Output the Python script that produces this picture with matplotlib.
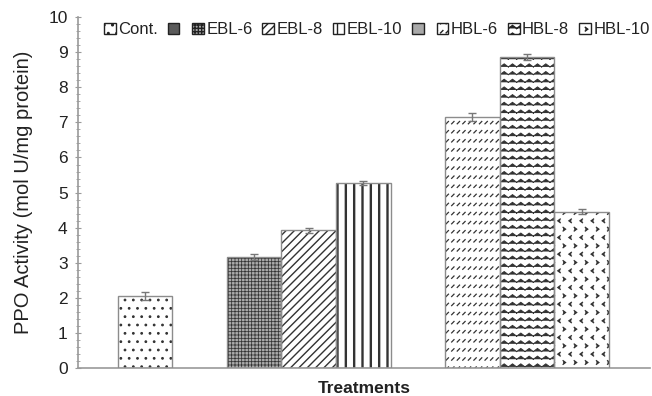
import warnings
import numpy as np
import matplotlib
matplotlib.use("Agg")
import matplotlib.pyplot as plt
from matplotlib import hatch as mhatch
from matplotlib.path import Path
from matplotlib.patches import Patch

warnings.filterwarnings("ignore", message="hatch must consist")

# ---- data -------------------------------------------------------------
treatments = ["Cont.", "EBL-6", "EBL-8", "EBL-10", "HBL-6", "HBL-8", "HBL-10"]
ppo_activity = [2.05, 3.17, 3.92, 5.28, 7.16, 8.87, 4.46]
ppo_error = [0.12, 0.08, 0.07, 0.06, 0.12, 0.08, 0.06]
# empty series that separate the control, EBL and HBL groups
spacer_colors = ["#5a5a5a", "#a9a9a9"]

y_ticks = list(range(0, 11))


# ---- extra hatch motifs -----------------------------------------------
class MotifHatch(mhatch.HatchPatternBase):
    """Repeats a small line motif on an nx-by-ny grid of the hatch tile."""
    key = ""
    nx = 1
    ny = 1
    strokes = ()

    def __init__(self, hatch, density):
        self.active = bool(self.key) and self.key in hatch
        per_cell = sum(len(s) for s in self.strokes)
        self.num_vertices = self.nx * self.ny * per_cell if self.active else 0

    def set_vertices_and_codes(self, vertices, codes):
        i = 0
        for r in range(self.ny):
            for c in range(self.nx):
                for stroke in self.strokes:
                    pts = np.asarray(stroke, float)
                    n = len(pts)
                    vertices[i:i + n, 0] = (c + pts[:, 0]) / self.nx
                    vertices[i:i + n, 1] = (r + pts[:, 1]) / self.ny
                    codes[i] = Path.MOVETO
                    codes[i + 1:i + n] = Path.LINETO
                    i += n


class ZigzagHatch(MotifHatch):
    key = "z"
    nx, ny = 12, 13
    strokes = ([(0.0, 0.3), (0.5, 0.7), (1.0, 0.3)],)


class DashSlashHatch(MotifHatch):
    key = "s"
    nx, ny = 18, 11
    strokes = ([(0.3, 0.38), (0.72, 0.64)],)


class ChevronHatch(MotifHatch):
    key = "c"
    nx, ny = 9, 6
    strokes = ([(0.42, 0.86), (0.2, 0.75), (0.42, 0.64)],
               [(0.68, 0.36), (0.9, 0.25), (0.68, 0.14)])


mhatch._hatch_types.extend([ZigzagHatch, DashSlashHatch, ChevronHatch])

# fill style of each treatment: (face colour, hatch, hatch line width)
styles = {
    "Cont.": ("white", "..", 0.8),
    "EBL-6": ("#aaaaaa", "+++++", 0.55),
    "EBL-8": ("white", "////", 1.0),
    "EBL-10": ("white", "||", 1.7),
    "HBL-6": ("white", "s", 0.9),
    "HBL-8": ("white", "z", 0.7),
    "HBL-10": ("white", "c", 0.9),
}

plt.rcParams["font.family"] = ["Liberation Sans", "DejaVu Sans"]
text_color = "#222222"
axis_color = "#9a9a9a"
hatch_color = "#333333"

fig = plt.figure(figsize=(6.52, 3.96), dpi=100)
ax = fig.add_axes([0.1196, 0.0707, 0.877, 0.886])

# slot layout: control, gap, three EBL, gap, three HBL
slots = [0, 2, 3, 4, 6, 7, 8]

for slot, name, val in zip(slots, treatments, ppo_activity):
    face, hatch, hlw = styles[name]
    with plt.rc_context({"hatch.linewidth": hlw}):
        bar = ax.bar(slot, val, width=1.0, color=face, hatch=hatch,
                     edgecolor=hatch_color, linewidth=0, zorder=2)[0]
    if hasattr(bar, "set_hatch_linewidth"):
        bar.set_hatch_linewidth(hlw)

ax.bar(slots, ppo_activity, width=1.0, fill=False, edgecolor="#8c8c8c",
       linewidth=1.0, zorder=3)
ax.errorbar(slots, ppo_activity, yerr=ppo_error, fmt="none", ecolor="#777777",
            elinewidth=1.0, capsize=3, capthick=1.0, zorder=4)

ax.set_xlim(-1.23, 9.25)
ax.set_ylim(0, 10)
ax.set_yticks(y_ticks)
ax.set_yticks(np.arange(0, 10.01, 0.2), minor=True)
ax.set_xticks([])

for side in ("top", "right"):
    ax.spines[side].set_visible(False)
for side in ("left", "bottom"):
    ax.spines[side].set_color(axis_color)
    ax.spines[side].set_linewidth(1.2)

ax.tick_params(axis="y", which="major", direction="inout", length=5,
               width=0.8, color=axis_color, labelsize=12.5,
               labelcolor=text_color, pad=5)
ax.tick_params(axis="y", which="minor", direction="inout", length=3,
               width=0.6, color=axis_color)

ax.set_ylabel("PPO Activity (mol U/mg protein)", fontsize=14.5,
              color=text_color, labelpad=11)
ax.set_xlabel("Treatments", fontsize=12.5, fontweight="bold",
              color=text_color, labelpad=9)

# legend with the two empty spacer series in their slots
handles, labels = [], []
for name in treatments:
    face, hatch, hlw = styles[name]
    handles.append(Patch(facecolor=face, hatch=hatch, edgecolor=text_color,
                         linewidth=1.0))
    labels.append(name)
handles.insert(1, Patch(facecolor=spacer_colors[0], edgecolor=text_color,
                        linewidth=1.0))
labels.insert(1, "")
handles.insert(5, Patch(facecolor=spacer_colors[1], edgecolor=text_color,
                        linewidth=1.0))
labels.insert(5, "")

leg = ax.legend(handles, labels, ncol=9, loc="upper right",
                bbox_to_anchor=(1.0, 0.985), frameon=False, fontsize=12,
                handlelength=0.7, handleheight=0.7, handletextpad=0.15,
                columnspacing=0.6, borderpad=0, borderaxespad=0)
for t in leg.get_texts():
    t.set_color(text_color)

fig.savefig("out.png", dpi=100)
